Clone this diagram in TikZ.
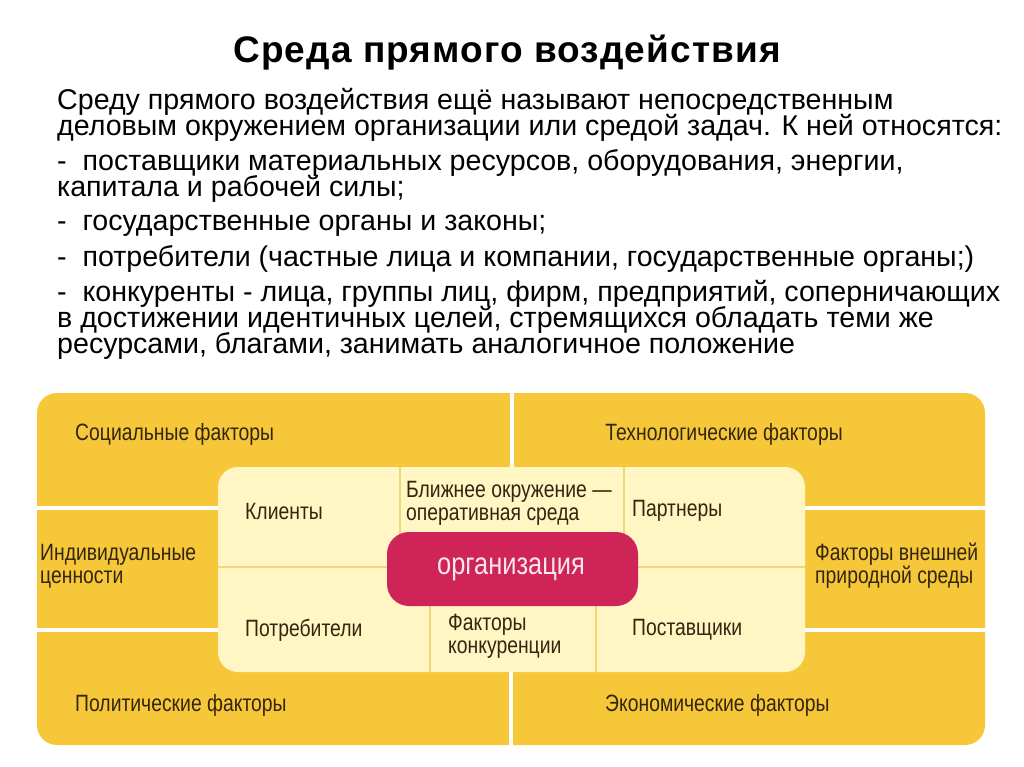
\documentclass[tikz,border=0pt]{standalone}
\usepackage{fontspec}
\setmainfont{Liberation Sans}
\newfontfamily\titlefont[LetterSpace=3]{Liberation Sans Bold}
\newfontfamily\narrowfont[FakeStretch=0.82]{Liberation Sans}
\definecolor{outery}{HTML}{F7C73A}
\definecolor{innery}{HTML}{FFF6C4}
\definecolor{divy}{HTML}{F0D778}
\definecolor{orgred}{HTML}{CE2457}
\definecolor{orgtext}{HTML}{FCE6EE}
\definecolor{dtext}{HTML}{33260E}
\tikzset{
  body/.style={anchor=base west, inner sep=0pt, font=\fontsize{28.6}{30}\selectfont},
  lbl/.style={anchor=west, inner sep=0pt, text=dtext, align=left, font=\narrowfont\fontsize{23.6}{23}\selectfont},
  clbl/.style={lbl, anchor=center, align=center},
  wline/.style={white, line width=4pt},
  dline/.style={divy, line width=2.5pt}
}
\begin{document}
\begin{tikzpicture}[x=1pt,y=-1pt]
\useasboundingbox (0,0) rectangle (1024,767);
\fill[white] (0,0) rectangle (1024,767);
% title
\node[anchor=base, inner sep=0pt, font=\titlefont\fontsize{37}{40}\selectfont] (title) at (507,63) {Среда прямого воздействия};
% body
\node[body] (l1) at (57,110) {Среду прямого воздействия ещё называют непосредственным};
\node[body] (l2) at (57,136) {деловым окружением организации или средой задач. К ней относятся:};
\node[body] (l3) at (57,171) {-\ \ поставщики материальных ресурсов, оборудования, энергии,};
\node[body] (l4) at (57,197) {капитала и рабочей силы;};
\node[body] (l5) at (57,231) {-\ \ государственные органы и законы;};
\node[body] (l6) at (57,266) {-\ \ потребители (частные лица и компании, государственные органы;)};
\node[body] (l7) at (57,301) {-\ \ конкуренты - лица, группы лиц, фирм, предприятий, соперничающих};
\node[body] (l8) at (57,327) {в достижении идентичных целей, стремящихся обладать теми же};
\node[body] (l9) at (57,353) {ресурсами, благами, занимать аналогичное положение};
% outer frame
\fill[outery, rounded corners=20pt] (37,393) rectangle (985,745);
\draw[wline] (512,393) -- (512,470);
\draw[wline] (511,670) -- (511,745);
\draw[wline] (37,508) -- (220,508);
\draw[wline] (37,630) -- (220,630);
\draw[wline] (803,508) -- (985,508);
\draw[wline] (803,630) -- (985,630);
% inner region
\fill[innery, rounded corners=20pt] (218,467) rectangle (805,672);
\draw[dline] (218,567) -- (805,567);
\draw[dline] (400,467) -- (400,567);
\draw[dline] (624,467) -- (624,567);
\draw[dline] (430,567) -- (430,672);
\draw[dline] (596,567) -- (596,672);
% organization
\fill[orgred, rounded corners=22pt] (387,532) rectangle (638,606);
\node[clbl, text=orgtext, font=\narrowfont\fontsize{31}{33}\selectfont] (org) at (511,569) {организация};
% outer labels
\node[lbl] (soc) at (75,434) {Социальные факторы};
\node[clbl] (tech) at (724,434) {Технологические факторы};
\node[lbl] (ind) at (40,566) {Индивидуальные\\ценности};
\node[lbl] (nat) at (815,566) {Факторы внешней\\природной среды};
\node[lbl] (pol) at (75,705) {Политические факторы};
\node[lbl] (eco) at (605,705) {Экономические факторы};
% inner labels
\node[lbl] (kli) at (245,511) {Клиенты};
\node[lbl] (bli) at (406,503) {Ближнее окружение —\\оперативная среда};
\node[lbl] (par) at (632,511) {Партнеры};
\node[lbl] (pot) at (245,630) {Потребители};
\node[lbl] (kon) at (448,636) {Факторы\\конкуренции};
\node[lbl] (pos) at (632,630) {Поставщики};
\end{tikzpicture}
\end{document}
